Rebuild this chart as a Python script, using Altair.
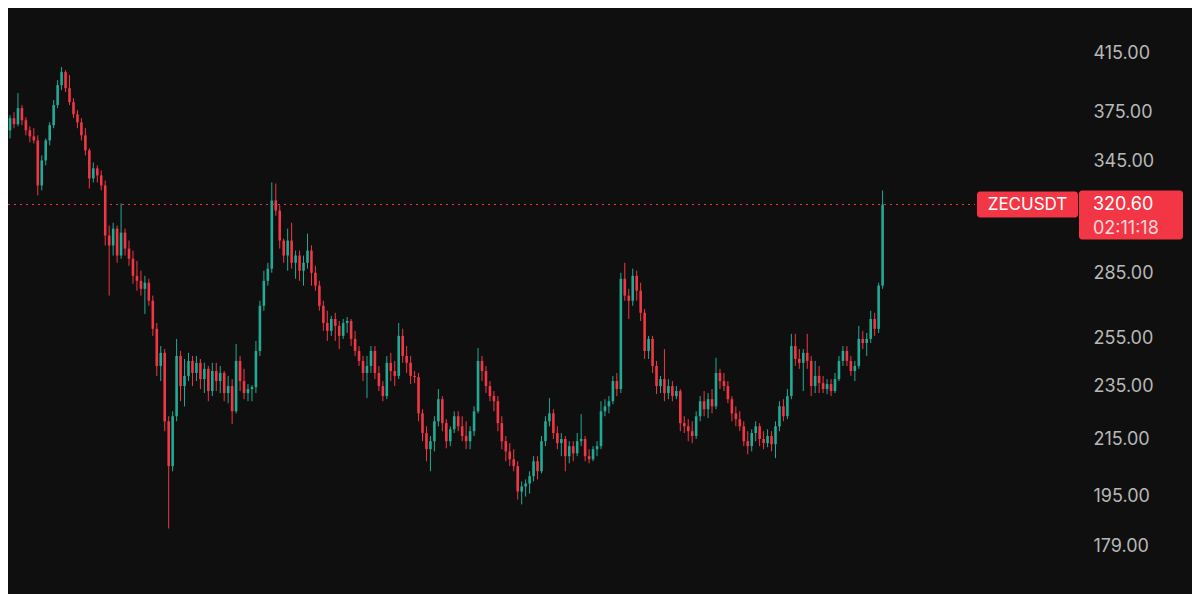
import altair as alt
import pandas as pd

# ---- data (ZECUSDT candles, log price scale) ----
open_ = [365.1, 363.8, 371.4, 367.6, 377.8, 370.1, 363.8, 360.1, 357.6, 331.2,
         345.6, 357.6, 367.0, 379.8, 392.9, 401.7, 390.9, 381.7, 373.9, 368.8,
         360.7, 351.6, 335.2, 341.0, 336.9, 331.2, 304.1, 299.0, 307.7, 293.9,
         305.6, 297.4, 292.3, 283.9, 281.5, 277.7, 280.6, 272.1, 259.4, 243.5,
         249.0, 221.6, 205.3, 223.5, 247.7, 235.3, 239.4, 245.6, 240.6, 244.8,
         238.1, 242.3, 233.3, 241.4, 237.3, 240.6, 232.5, 235.3, 225.4, 245.6,
         237.3, 232.5, 234.1, 234.9, 249.8, 269.8, 281.5, 287.4, 322.8, 317.3,
         301.5, 293.9, 301.5, 290.3, 293.9, 286.4, 290.3, 296.4, 285.4, 279.2,
         269.8, 262.0, 258.5, 263.8, 260.7, 256.3, 262.0, 262.9, 255.0, 249.8,
         245.6, 240.6, 243.5, 249.8, 240.6, 235.3, 231.3, 244.8, 241.4, 239.4,
         256.3, 247.7, 244.8, 239.4, 238.9, 224.6, 217.2, 211.3, 214.2, 221.6,
         230.1, 220.9, 214.2, 218.6, 223.5, 219.7, 216.1, 214.2, 217.9, 225.4,
         245.6, 241.4, 235.3, 231.3, 229.3, 220.9, 214.2, 210.5, 207.7, 205.3,
         196.6, 198.3, 199.3, 201.8, 207.0, 203.5, 214.2, 221.6, 224.6, 217.2,
         213.5, 215.0, 208.8, 212.4, 209.8, 214.2, 215.0, 208.8, 207.7, 211.3,
         212.4, 225.4, 227.3, 229.3, 237.3, 234.1, 282.5, 274.5, 272.1, 283.9,
         276.8, 266.6, 249.8, 255.0, 243.5, 235.3, 238.1, 232.5, 235.3, 231.3,
         233.3, 220.9, 219.7, 217.9, 216.1, 223.5, 229.3, 226.2, 230.1, 227.3,
         240.6, 237.3, 235.3, 230.1, 224.6, 222.4, 219.7, 214.2, 212.4, 217.2,
         219.7, 215.0, 213.5, 216.1, 213.1, 219.7, 227.3, 223.5, 231.3, 251.9,
         246.4, 244.8, 249.0, 245.6, 235.3, 239.4, 236.5, 234.1, 236.1, 233.3,
         238.1, 245.6, 249.8, 245.6, 241.4, 243.5, 255.0, 253.2, 255.0, 263.8,
         259.4, 279.2]

high = [371.4, 373.3, 375.2, 387.6, 379.8, 372.0, 366.3, 365.1, 360.7, 348.6,
        358.8, 368.8, 383.0, 396.3, 405.2, 403.1, 399.7, 384.3, 376.5, 371.4,
        365.1, 352.8, 344.4, 342.7, 339.8, 334.0, 309.3, 310.8, 309.3, 321.2,
        307.7, 301.5, 296.4, 291.3, 286.4, 283.9, 282.5, 274.5, 262.0, 251.9,
        250.6, 223.5, 225.4, 255.0, 249.8, 246.4, 249.0, 247.7, 247.7, 246.4,
        244.8, 243.5, 244.8, 244.8, 243.5, 241.4, 239.4, 238.1, 252.8, 247.7,
        242.3, 236.1, 235.7, 254.1, 272.1, 286.4, 290.3, 332.9, 332.3, 320.1,
        302.5, 307.7, 310.8, 296.4, 296.4, 293.9, 305.1, 299.0, 288.8, 281.5,
        272.1, 267.5, 265.2, 266.6, 262.9, 263.8, 264.7, 263.8, 258.5, 251.9,
        247.7, 247.7, 251.9, 251.9, 243.5, 237.3, 247.7, 249.0, 245.6, 262.0,
        259.4, 251.9, 247.7, 241.4, 240.6, 226.2, 219.7, 216.1, 223.5, 234.1,
        231.3, 222.4, 219.7, 225.4, 225.4, 223.5, 221.6, 219.7, 227.3, 251.1,
        247.7, 243.5, 237.3, 233.3, 231.3, 223.5, 216.1, 213.5, 211.3, 207.0,
        200.0, 200.7, 203.5, 208.8, 208.8, 216.1, 223.5, 230.5, 226.2, 219.7,
        217.2, 216.1, 214.2, 214.2, 217.2, 224.3, 216.1, 211.3, 212.4, 214.2,
        229.3, 230.1, 231.3, 239.4, 240.6, 285.4, 290.3, 277.7, 287.4, 286.4,
        280.6, 268.4, 256.3, 256.3, 245.6, 239.4, 250.6, 238.1, 237.3, 235.3,
        234.1, 223.5, 222.4, 221.6, 225.4, 231.3, 233.3, 232.5, 234.1, 246.9,
        242.3, 240.6, 237.3, 231.3, 227.3, 225.4, 221.6, 217.9, 218.6, 221.6,
        220.9, 217.9, 218.6, 217.9, 221.6, 229.3, 230.1, 234.1, 257.2, 257.2,
        250.6, 250.6, 257.2, 247.7, 245.6, 243.5, 239.4, 238.1, 238.1, 240.6,
        247.7, 251.9, 251.9, 247.7, 245.6, 260.7, 258.5, 257.6, 267.5, 266.6,
        280.6, 328.4]

low = [357.6, 358.8, 365.1, 366.3, 367.0, 360.7, 356.4, 355.8, 325.6, 328.4,
       342.7, 354.6, 365.1, 377.8, 389.6, 388.3, 379.8, 371.4, 365.1, 357.6,
       348.6, 329.5, 332.9, 332.9, 328.4, 299.0, 274.5, 293.9, 290.3, 292.3,
       293.9, 288.8, 280.1, 276.8, 274.5, 266.1, 269.8, 256.3, 239.4, 237.3,
       217.9, 184.6, 203.5, 221.6, 229.3, 227.3, 237.3, 235.3, 237.3, 234.1,
       232.5, 229.3, 231.3, 233.3, 232.5, 229.3, 228.5, 220.5, 224.6, 233.3,
       230.1, 229.3, 229.3, 232.5, 247.7, 267.5, 279.2, 285.4, 314.6, 297.4,
       290.3, 286.4, 287.4, 282.5, 281.5, 279.2, 287.4, 279.2, 276.8, 267.5,
       258.5, 254.1, 256.3, 254.1, 250.6, 255.0, 257.6, 251.9, 247.7, 243.5,
       237.3, 230.5, 240.6, 238.1, 233.3, 229.3, 230.1, 237.3, 235.3, 238.1,
       244.8, 240.6, 236.1, 236.5, 221.6, 214.2, 207.0, 203.5, 210.5, 219.7,
       217.9, 211.6, 212.4, 217.2, 217.9, 214.2, 211.3, 211.3, 216.1, 224.6,
       237.3, 232.5, 229.3, 225.4, 217.9, 211.3, 207.0, 205.3, 203.5, 193.9,
       192.3, 194.9, 195.9, 200.0, 200.7, 202.8, 212.4, 219.7, 215.0, 211.3,
       208.8, 203.5, 206.3, 207.0, 208.8, 212.4, 207.0, 206.3, 207.0, 208.8,
       211.3, 223.5, 224.6, 228.1, 231.3, 232.5, 272.1, 263.8, 269.8, 272.1,
       262.9, 246.4, 246.4, 240.6, 232.1, 232.5, 229.3, 230.1, 229.3, 230.1,
       217.9, 217.2, 214.2, 213.5, 215.0, 221.6, 223.5, 222.8, 224.6, 226.2,
       234.1, 233.3, 228.5, 221.6, 219.7, 217.9, 212.4, 209.5, 210.5, 214.2,
       212.4, 211.3, 212.0, 210.5, 208.1, 217.9, 221.6, 222.4, 230.1, 243.5,
       242.3, 233.3, 242.3, 231.3, 232.5, 232.5, 232.5, 232.1, 231.3, 232.5,
       237.3, 243.5, 243.5, 239.4, 237.3, 242.3, 250.6, 247.7, 253.2, 256.3,
       257.6, 277.7]

close = [363.8, 371.4, 367.6, 377.8, 370.1, 363.8, 360.1, 357.6, 331.2, 345.6,
         357.6, 367.0, 379.8, 392.9, 401.7, 390.9, 381.7, 373.9, 368.8, 360.7,
         351.6, 335.2, 341.0, 336.9, 331.2, 304.1, 299.0, 307.7, 293.9, 305.6,
         297.4, 292.3, 283.9, 281.5, 277.7, 280.6, 272.1, 259.4, 243.5, 249.0,
         221.6, 205.3, 223.5, 247.7, 235.3, 239.4, 245.6, 240.6, 244.8, 238.1,
         242.3, 233.3, 241.4, 237.3, 240.6, 232.5, 235.3, 225.4, 245.6, 237.3,
         232.5, 234.1, 234.9, 249.8, 269.8, 281.5, 287.4, 322.8, 317.3, 301.5,
         293.9, 301.5, 290.3, 293.9, 286.4, 290.3, 296.4, 285.4, 279.2, 269.8,
         262.0, 258.5, 263.8, 260.7, 256.3, 262.0, 262.9, 255.0, 249.8, 245.6,
         240.6, 243.5, 249.8, 240.6, 235.3, 231.3, 244.8, 241.4, 239.4, 256.3,
         247.7, 244.8, 239.4, 238.9, 224.6, 217.2, 211.3, 214.2, 221.6, 230.1,
         220.9, 214.2, 218.6, 223.5, 219.7, 216.1, 214.2, 217.9, 225.4, 245.6,
         241.4, 235.3, 231.3, 229.3, 220.9, 214.2, 210.5, 207.7, 205.3, 196.6,
         198.3, 199.3, 201.8, 207.0, 203.5, 214.2, 221.6, 224.6, 217.2, 213.5,
         215.0, 208.8, 212.4, 209.8, 214.2, 215.0, 208.8, 207.7, 211.3, 212.4,
         225.4, 227.3, 229.3, 237.3, 234.1, 282.5, 274.5, 272.1, 283.9, 276.8,
         266.6, 249.8, 255.0, 243.5, 235.3, 238.1, 232.5, 235.3, 231.3, 233.3,
         220.9, 219.7, 217.9, 216.1, 223.5, 229.3, 226.2, 230.1, 227.3, 240.6,
         237.3, 235.3, 230.1, 224.6, 222.4, 219.7, 214.2, 212.4, 217.2, 219.7,
         215.0, 213.5, 216.1, 213.1, 219.7, 227.3, 223.5, 231.3, 251.9, 246.4,
         244.8, 249.0, 245.6, 235.3, 239.4, 236.5, 234.1, 236.1, 233.3, 238.1,
         245.6, 249.8, 245.6, 241.4, 243.5, 255.0, 253.2, 255.0, 263.8, 259.4,
         279.2, 320.6]

tick_values = [179, 195, 215, 235, 255, 285, 345, 375, 415]
last_price = 320.60
symbol = "ZECUSDT"
countdown = "02:11:18"

# ---- styling ----
GREEN = "#22ab94"
RED = "#f23645"
BG = "#0f0f0f"
LABEL = "#b8b8b8"
FONT = "Inter"

W, H = 1184, 586

df = pd.DataFrame({"t": list(range(len(close))), "open": open_, "high": high,
                   "low": low, "close": close})
price_df = pd.DataFrame({"p": [last_price], "sym": [symbol],
                         "lbl": [f"{last_price:.2f}"], "cd": [countdown]})

yscale = alt.Scale(type="log", domain=[165.1, 448.1], nice=False, zero=False)
xscale = alt.Scale(domain=[1.75, 297.75], nice=False, zero=False)
color = alt.condition("datum.open <= datum.close", alt.value(GREEN), alt.value(RED))

base = alt.Chart(df).encode(x=alt.X("t:Q", scale=xscale, axis=None))

wick = base.mark_rule(strokeWidth=1).encode(
    y=alt.Y("low:Q", scale=yscale,
            axis=alt.Axis(orient="right", values=tick_values, format=".2f",
                          domain=False, ticks=False, grid=False, title=None,
                          labelColor=LABEL, labelFontSize=18, labelFont=FONT,
                          labelAlign="left", labelBaseline="middle",
                          labelPadding=0, offset=-99, labelOverlap=False,
                          labelFlush=False)),
    y2="high:Q",
    color=color,
)

body = base.mark_bar(size=2.6).encode(
    y=alt.Y("open:Q", scale=yscale),
    y2="close:Q",
    color=color,
)

pbase = alt.Chart(price_df)

pline = pbase.mark_rule(color=RED, strokeDash=[2, 4], strokeWidth=1).encode(
    y=alt.Y("p:Q", scale=yscale), x=alt.value(0), x2=alt.value(967))

sym_box = pbase.mark_rect(color=RED, cornerRadius=3, yOffset=-13, y2Offset=13).encode(
    y=alt.Y("p:Q", scale=yscale), y2="p:Q", x=alt.value(969), x2=alt.value(1070))

price_box = pbase.mark_rect(color=RED, cornerRadius=3, yOffset=-14, y2Offset=35).encode(
    y=alt.Y("p:Q", scale=yscale), y2="p:Q", x=alt.value(1071), x2=alt.value(1175))

sym_text = pbase.mark_text(color="white", font=FONT, fontSize=17, align="center",
                           baseline="middle").encode(
    y=alt.Y("p:Q", scale=yscale), x=alt.value(1019.5), text="sym:N")

price_text = pbase.mark_text(color="white", font=FONT, fontSize=18, align="left",
                             baseline="middle").encode(
    y=alt.Y("p:Q", scale=yscale), x=alt.value(1085), text="lbl:N")

cd_text = pbase.mark_text(color="#ffd6da", font=FONT, fontSize=18, align="left",
                          baseline="middle", dy=24).encode(
    y=alt.Y("p:Q", scale=yscale), x=alt.value(1085), text="cd:N")

chart = alt.layer(wick, body, pline, sym_box, price_box, sym_text, price_text, cd_text).properties(
    width=W, height=H, background=BG, padding=0,
    autosize=alt.AutoSizeParams(type="none"),
).configure_view(strokeWidth=0)

chart.save("out.html", embed_options={"renderer": "svg", "actions": False})
